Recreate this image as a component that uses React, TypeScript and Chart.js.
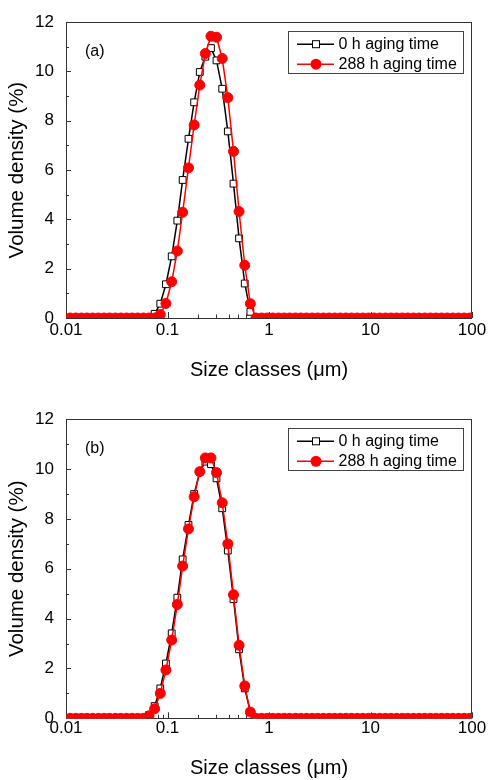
import React, { useEffect, useRef } from "react";
import { Chart, registerables } from "chart.js";
Chart.register(...registerables);

// Size classes (µm), log-spaced laser-diffraction bands
const sizeClasses = [
  0.011, 0.0125, 0.0142, 0.0161, 0.0183, 0.0208, 0.0237, 0.0269, 0.0306, 0.0347,
  0.0395, 0.0448, 0.0509, 0.0579, 0.0658, 0.0747, 0.0849, 0.0965, 0.110, 0.125,
  0.141, 0.161, 0.183, 0.208, 0.236, 0.268, 0.304, 0.346, 0.393, 0.447,
  0.507, 0.577, 0.655, 0.744, 0.846, 0.961, 1.09, 1.24, 1.41, 1.60,
  1.82, 2.06, 2.34, 2.66, 3.03, 3.44, 3.91, 4.44, 5.04, 5.73,
  6.51, 7.40, 8.41, 9.55, 10.85, 12.33, 14.01, 15.91, 18.08, 20.54,
  23.34, 26.52, 30.13, 34.23, 38.89, 44.19, 50.21, 57.04, 64.81, 73.64,
  83.66, 95.05,
];

// Panel (a) volume density (%)
const panelA_0h = [
  0, 0, 0, 0, 0, 0, 0, 0, 0, 0,
  0, 0, 0, 0, 0, 0.17, 0.58, 1.37, 2.5, 3.95,
  5.6, 7.27, 8.75, 9.98, 10.6, 10.95, 10.45, 9.3, 7.57, 5.45,
  3.23, 1.4, 0.25, 0, 0, 0, 0, 0, 0, 0,
  0, 0, 0, 0, 0, 0, 0, 0, 0, 0,
  0, 0, 0, 0, 0, 0, 0, 0, 0, 0,
  0, 0, 0, 0, 0, 0, 0, 0, 0, 0,
  0, 0,
];
const panelA_288h = [
  0, 0, 0, 0, 0, 0, 0, 0, 0, 0,
  0, 0, 0, 0, 0, 0, 0.14, 0.59, 1.47, 2.72,
  4.29, 6.09, 7.83, 9.45, 10.73, 11.43, 11.39, 10.53, 8.94, 6.76,
  4.32, 2.14, 0.58, 0, 0, 0, 0, 0, 0, 0,
  0, 0, 0, 0, 0, 0, 0, 0, 0, 0,
  0, 0, 0, 0, 0, 0, 0, 0, 0, 0,
  0, 0, 0, 0, 0, 0, 0, 0, 0, 0,
  0, 0,
];

// Panel (b) volume density (%)
const panelB_0h = [
  0, 0, 0, 0, 0, 0, 0, 0, 0, 0,
  0, 0, 0, 0, 0.13, 0.49, 1.2, 2.2, 3.41, 4.84,
  6.38, 7.76, 9.0, 9.9, 10.3, 10.2, 9.63, 8.43, 6.73, 4.78,
  2.77, 1.2, 0.26, 0, 0, 0, 0, 0, 0, 0,
  0, 0, 0, 0, 0, 0, 0, 0, 0, 0,
  0, 0, 0, 0, 0, 0, 0, 0, 0, 0,
  0, 0, 0, 0, 0, 0, 0, 0, 0, 0,
  0, 0,
];
const panelB_288h = [
  0, 0, 0, 0, 0, 0, 0, 0, 0, 0,
  0, 0, 0, 0, 0.1, 0.38, 1.0, 1.94, 3.14, 4.57,
  6.11, 7.6, 8.89, 9.9, 10.45, 10.45, 9.86, 8.65, 7.0, 4.96,
  2.93, 1.3, 0.25, 0, 0, 0, 0, 0, 0, 0,
  0, 0, 0, 0, 0, 0, 0, 0, 0, 0,
  0, 0, 0, 0, 0, 0, 0, 0, 0, 0,
  0, 0, 0, 0, 0, 0, 0, 0, 0, 0,
  0, 0,
];

const seriesNames = ["0 h aging time", "288 h aging time"];
const xTickLabels = ["0.01", "0.1", "1", "10", "100"];
const xMin = 0.01;
const xMax = 100;
const yMin = 0;
const yMax = 12;
const yStep = 2;
const xTitle = "Size classes (\u03bcm)";
const yTitle = "Volume density (%)";

const FONT = "'Liberation Sans', Arial, Helvetica, sans-serif";
const RED = "#ff0000";
const AXIS = "#333333";

type PanelProps = {
  label: string;
  s0: number[];
  s288: number[];
  top: number;
  axisHeight: number;
  titlePad: number;
  tickPad: number;
};

function Panel({ label, s0, s288, top, axisHeight, titlePad, tickPad }: PanelProps) {
  const ref = useRef<HTMLCanvasElement | null>(null);
  useEffect(() => {
    if (!ref.current) return;
    const decor = {
      id: "decor",
      beforeDatasetsDraw(chart: any) {
        const { ctx, chartArea: a, scales } = chart;
        const xs = scales.x;
        const ys = scales.y;
        ctx.save();
        ctx.strokeStyle = AXIS;
        ctx.lineWidth = 1;
        // frame
        ctx.strokeRect(Math.round(a.left) + 0.5, Math.round(a.top) + 0.5,
          Math.round(a.right - a.left) - 1, Math.round(a.bottom - a.top));
        // y ticks (inward)
        for (let v = yMin; v <= yMax; v += 1) {
          const py = Math.round(ys.getPixelForValue(v)) + 0.5;
          const len = v % 2 === 0 ? 5 : 3;
          ctx.beginPath();
          ctx.moveTo(a.left, py);
          ctx.lineTo(a.left + len, py);
          ctx.stroke();
        }
        // x ticks (inward)
        for (let e = -2; e <= 2; e++) {
          for (let m = 1; m <= 9; m++) {
            const v = m * Math.pow(10, e);
            if (v > xMax * 1.0001) break;
            const px = Math.round(xs.getPixelForValue(v)) + 0.5;
            const len = m === 1 ? 6 : 3.5;
            ctx.beginPath();
            ctx.moveTo(px, a.bottom);
            ctx.lineTo(px, a.bottom - len);
            ctx.stroke();
          }
        }
        ctx.restore();
      },
      afterDraw(chart: any) {
        const { ctx, chartArea: a } = chart;
        ctx.save();
        // panel label
        ctx.fillStyle = "#000";
        ctx.font = `16px ${FONT}`;
        ctx.textAlign = "left";
        ctx.textBaseline = "middle";
        ctx.fillText(label, a.left + 19, a.top + 29.5);
        // legend box
        const bx = a.right - 184.5;
        const by = a.top + 8.5;
        const bw = 175;
        const bh = 42;
        ctx.strokeStyle = "#444";
        ctx.lineWidth = 1;
        ctx.strokeRect(Math.round(bx) + 0.5, Math.round(by) + 0.5, bw, bh);
        const rows = [by + 13.5, by + 33.5];
        const lx0 = bx + 9.5;
        const lx1 = bx + 46.5;
        const mx = bx + 28.5;
        // row 1
        ctx.strokeStyle = "#000";
        ctx.lineWidth = 1.5;
        ctx.beginPath();
        ctx.moveTo(lx0, rows[0]);
        ctx.lineTo(lx1, rows[0]);
        ctx.stroke();
        ctx.fillStyle = "#fff";
        ctx.lineWidth = 1;
        ctx.fillRect(mx - 3.5, rows[0] - 3.5, 7, 7);
        ctx.strokeRect(mx - 3.5, rows[0] - 3.5, 7, 7);
        // row 2
        ctx.strokeStyle = RED;
        ctx.lineWidth = 1.5;
        ctx.beginPath();
        ctx.moveTo(lx0, rows[1]);
        ctx.lineTo(lx1, rows[1]);
        ctx.stroke();
        ctx.fillStyle = RED;
        ctx.beginPath();
        ctx.arc(mx, rows[1], 5.5, 0, Math.PI * 2);
        ctx.fill();
        ctx.fillStyle = "#000";
        ctx.font = `16px ${FONT}`;
        ctx.fillText(seriesNames[0], bx + 51, rows[0] + 0.5);
        ctx.fillText(seriesNames[1], bx + 51, rows[1] + 0.5);
        ctx.restore();
      },
    };

    const chart = new Chart(ref.current, {
      type: "line",
      data: {
        datasets: [
          {
            // first dataset is drawn on top
            label: seriesNames[1],
            data: sizeClasses.map((x, i) => ({ x, y: s288[i] })),
            borderColor: RED,
            borderWidth: 1.5,
            pointStyle: "circle",
            pointRadius: 5,
            pointBackgroundColor: RED,
            pointBorderColor: RED,
            pointBorderWidth: 1,
            tension: 0,
            clip: 0,
          },
          {
            label: seriesNames[0],
            data: sizeClasses.map((x, i) => ({ x, y: s0[i] })),
            borderColor: "#000",
            borderWidth: 1.5,
            pointStyle: "rect",
            pointRadius: 4.8,
            pointBackgroundColor: "#fff",
            pointBorderColor: "#000",
            pointBorderWidth: 1,
            tension: 0,
            clip: 0,
          },
        ],
      },
      options: {
        responsive: false,
        animation: false,
        events: [],
        layout: { padding: { top, right: 18, left: 0, bottom: 0 } },
        plugins: { legend: { display: false }, tooltip: { enabled: false } },
        scales: {
          x: {
            type: "logarithmic",
            min: xMin,
            max: xMax,
            grid: { display: false, drawTicks: false },
            border: { display: false },
            afterFit: (s: any) => {
              s.height = axisHeight;
            },
            ticks: {
              autoSkip: false,
              maxRotation: 0,
              minRotation: 0,
              padding: tickPad,
              color: "#000",
              font: { family: FONT, size: 17 },
              callback: (v: any) => {
                const val = Number(v);
                const lg = Math.log10(val);
                if (Math.abs(lg - Math.round(lg)) < 1e-6) {
                  const idx = Math.round(lg) + 2;
                  return xTickLabels[idx] ?? "";
                }
                return "";
              },
            },
            title: {
              display: true,
              text: xTitle,
              color: "#000",
              font: { family: FONT, size: 20, lineHeight: 1 },
              padding: { top: 0, bottom: titlePad },
            },
          },
          y: {
            type: "linear",
            min: yMin,
            max: yMax,
            grid: { display: false, drawTicks: false },
            border: { display: false },
            afterFit: (s: any) => {
              s.width = 66;
            },
            ticks: {
              stepSize: yStep,
              padding: 12,
              color: "#000",
              font: { family: FONT, size: 17 },
            },
            title: {
              display: true,
              text: yTitle,
              color: "#000",
              font: { family: FONT, size: 20.5, lineHeight: 1 },
              padding: { top: 7.5, bottom: 0 },
            },
          },
        },
      },
      plugins: [decor],
    } as any);
    return () => chart.destroy();
  }, [label, s0, s288, top, axisHeight, titlePad, tickPad]);
  return <canvas ref={ref} width={490} height={390} style={{ display: "block", width: 490, height: 390 }} />;
}

export default function App() {
  return (
    <div style={{ position: "absolute", left: 0, top: 0, width: 490, height: 780, background: "#fff" }}>
      <Panel label="(a)" s0={panelA_0h} s288={panelA_288h} top={21} axisHeight={72} titlePad={10} tickPad={2} />
      <Panel label="(b)" s0={panelB_0h} s288={panelB_288h} top={29.3} axisHeight={61.7} titlePad={2} tickPad={0} />
    </div>
  );
}
